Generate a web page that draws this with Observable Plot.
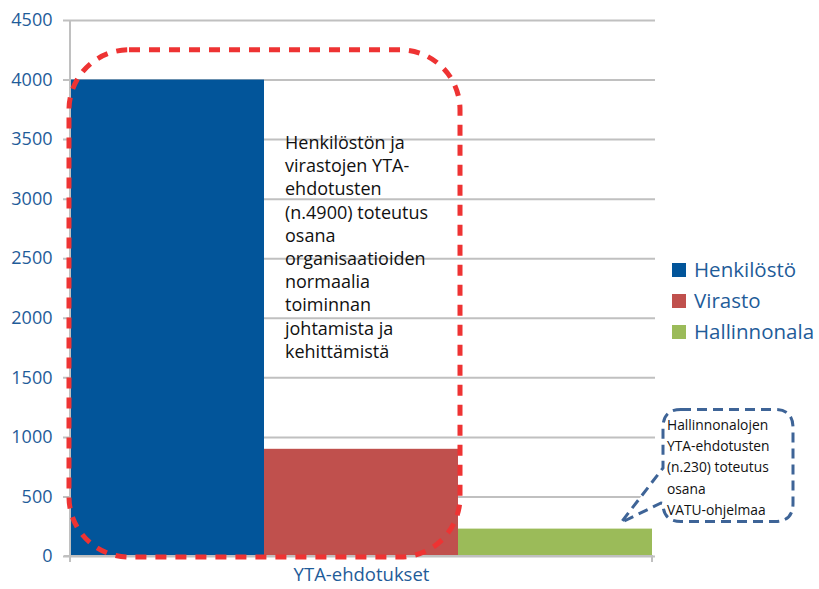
<!DOCTYPE html>
<html>
<head>
<meta charset="utf-8">
<script src="https://cdn.jsdelivr.net/npm/d3@7"></script>
<script src="https://cdn.jsdelivr.net/npm/@observablehq/plot@0.6"></script>
<style>
  html, body { margin: 0; padding: 0; background: #fff; }
  #chart { width: 819px; height: 589px; }
</style>
</head>
<body>
<div id="chart"></div>
<script>
const series = ["Henkilöstö", "Virasto", "Hallinnonala"];
const values = [4000, 900, 230];
const colors = ["#02559A", "#C0504D", "#9BBB59"];
const yTicks = [0, 500, 1000, 1500, 2000, 2500, 3000, 3500, 4000, 4500];
const category = "YTA-ehdotukset";
const note1Lines = ["Henkilöstön ja", "virastojen YTA-", "ehdotusten", "(n.4900) toteutus", "osana", "organisaatioiden", "normaalia", "toiminnan", "johtamista ja", "kehittämistä"];
const note2Lines = ["Hallinnonalojen", "YTA-ehdotusten", "(n.230) toteutus", "osana", "VATU-ohjelmaa"];

const data = series.map((s, i) => ({series: s, value: values[i]}));
const font = "'Open Sans', 'Noto Sans', sans-serif";
const axisColor = "#1F5C99";
const gridColor = "#C0C0C0";

const chart = Plot.plot({
  width: 819,
  height: 589,
  marginLeft: 69,
  marginRight: 166,
  marginTop: 20,
  marginBottom: 33,
  style: {fontFamily: font, background: "white", overflow: "visible"},
  x: {domain: series, padding: 0, axis: null},
  y: {domain: [0, 4500], axis: null},
  color: {domain: series, range: colors},
  marks: [
    Plot.ruleY(yTicks, {stroke: gridColor, strokeWidth: 2, insetLeft: -6, insetRight: -2}),
    Plot.barY(data, {x: "series", y: "value", fill: "series"}),
    Plot.text(yTicks, {x: null, y: d => d, text: d => String(d), frameAnchor: "left", dx: -17, textAnchor: "end", fill: axisColor, fontSize: 18}),
    Plot.text([category], {frameAnchor: "bottom", dy: 24, fill: axisColor, fontSize: 18.5})
  ]
});
document.getElementById("chart").appendChild(chart);

const svg = d3.select(chart);
const xs = chart.scale("x");
const ys = chart.scale("y");
const bw = xs.bandwidth;
const xL = xs.apply(series[0]);
const xR = xs.apply(series[2]) + bw;
const y0 = ys.apply(0);
const yTop = ys.apply(4500);

// axis lines and end ticks
svg.append("line").attr("x1", xL).attr("x2", xL).attr("y1", yTop).attr("y2", y0 + 6).attr("stroke", gridColor).attr("stroke-width", 2);
svg.append("line").attr("x1", xL - 6).attr("x2", xR + 1).attr("y1", y0).attr("y2", y0).attr("stroke", gridColor).attr("stroke-width", 2);
svg.append("line").attr("x1", xR).attr("x2", xR).attr("y1", y0).attr("y2", y0 + 6).attr("stroke", gridColor).attr("stroke-width", 2);

// red dashed rounded box
const rx0 = xL - 1, rx1 = xs.apply(series[1]) + bw + 2;
const ry0 = ys.apply(4250), ry1 = y0 + 1;
svg.append("rect")
  .attr("x", rx0).attr("y", ry0).attr("width", rx1 - rx0).attr("height", ry1 - ry0)
  .attr("rx", 60).attr("ry", 60)
  .attr("fill", "none").attr("stroke", "#EE3333").attr("stroke-width", 5)
  .attr("stroke-dasharray", "11,9");

const t1 = svg.append("text").attr("font-family", font).attr("font-size", 18).attr("fill", "#111").attr("text-anchor", "start");
note1Lines.forEach((l, i) => {
  t1.append("tspan").attr("x", xs.apply(series[1]) + 21).attr("y", 149 + i * 23.2).attr("text-anchor", "start").text(l);
});

// blue callout
const bx0 = 663, bx1 = 793, by0 = ys.apply(1230), by1 = ys.apply(290);
const tipX = xs.apply(series[2]) + bw * 0.84, tipY = ys.apply(280);
const r = 18;
const p = d3.path();
p.moveTo(bx0 + r, by0);
p.lineTo(bx1 - r, by0);
p.quadraticCurveTo(bx1, by0, bx1, by0 + r);
p.lineTo(bx1, by1 - r);
p.quadraticCurveTo(bx1, by1, bx1 - r, by1);
p.lineTo(bx0 + r, by1);
p.quadraticCurveTo(bx0, by1, bx0, by1 - r);
p.lineTo(bx0 - 2, 503);
p.lineTo(tipX, tipY);
p.lineTo(bx0, 468);
p.lineTo(bx0, by0 + r);
p.quadraticCurveTo(bx0, by0, bx0 + r, by0);
svg.append("path").attr("d", p.toString()).attr("fill", "white")
  .attr("stroke", "#3E6497").attr("stroke-width", 3).attr("stroke-dasharray", "10,6");

const t2 = svg.append("text").attr("font-family", font).attr("font-size", 13.8).attr("fill", "#111").attr("text-anchor", "start");
note2Lines.forEach((l, i) => {
  t2.append("tspan").attr("x", 667).attr("y", 430 + i * 21.2).attr("text-anchor", "start").text(l);
});

// legend
series.forEach((s, i) => {
  const cy = 270 + i * 31;
  svg.append("rect").attr("x", 672).attr("y", cy - 7).attr("width", 14).attr("height", 14).attr("fill", colors[i]);
  svg.append("text").attr("x", 694).attr("y", cy).attr("dy", "0.35em").attr("text-anchor", "start")
    .attr("font-family", font).attr("font-size", 20.5).attr("fill", axisColor).text(s);
});
</script>
</body>
</html>
